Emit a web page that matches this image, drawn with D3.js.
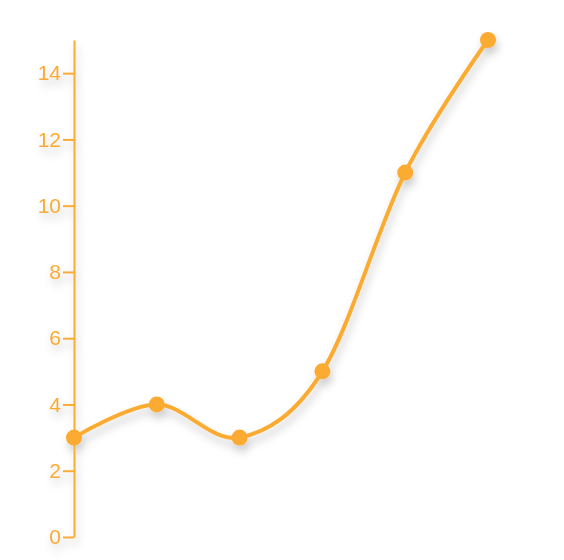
<!DOCTYPE html>
<html>
<head>
<meta charset="utf-8">
<script src="https://cdn.jsdelivr.net/npm/d3@7"></script>
<style>
body{margin:0;background:#fff;}
</style>
</head>
<body>
<div id="svgContainer"></div>
<script>
var svgWidth = 564, svgHeight = 560;
var categories = ["a","b","c","d","e","f"];
var values = [3,4,3,5,11,15];
var yTicks = [0,2,4,6,8,10,12,14];
var color = "#fbaa33";

var svg = d3.select("#svgContainer").append("svg")
    .attr("width",svgWidth)
    .attr("height",svgHeight);

var defs = svg.append("defs");
var f = defs.append("filter").attr("id","shadow")
    .attr("x","-20%").attr("y","-20%").attr("width","140%").attr("height","140%");
f.append("feDropShadow")
    .attr("dx",2).attr("dy",6)
    .attr("stdDeviation",4)
    .attr("flood-color","#000")
    .attr("flood-opacity",0.2);

var x = d3.scalePoint().domain(categories).range([74,488]);
var y = d3.scaleLinear().domain([0,15]).range([537,40]);

var g = svg.append("g").attr("filter","url(#shadow)");

var axis = g.append("g")
    .attr("transform","translate(74,0)")
    .call(d3.axisLeft(y).tickValues(yTicks).tickSize(11).tickSizeOuter(0).tickPadding(2));
axis.select(".domain").attr("stroke",color).attr("stroke-width",2);
axis.selectAll(".tick line").attr("stroke",color).attr("stroke-width",2);
axis.selectAll(".tick text")
    .attr("fill",color)
    .style("font-family","Liberation Sans, Arial, sans-serif")
    .style("font-size","21px");

var line = d3.line()
    .x(function(d,i){return x(categories[i]);})
    .y(function(d){return y(d);})
    .curve(d3.curveCardinal);

g.append("path")
    .datum(values)
    .attr("d",line)
    .attr("fill","none")
    .attr("stroke",color)
    .attr("stroke-width",4);

g.selectAll("circle")
    .data(values)
    .enter()
    .append("circle")
    .attr("cx",function(d,i){return x(categories[i]);})
    .attr("cy",function(d){return y(d);})
    .attr("r",8)
    .attr("fill",color);
</script>
</body>
</html>
